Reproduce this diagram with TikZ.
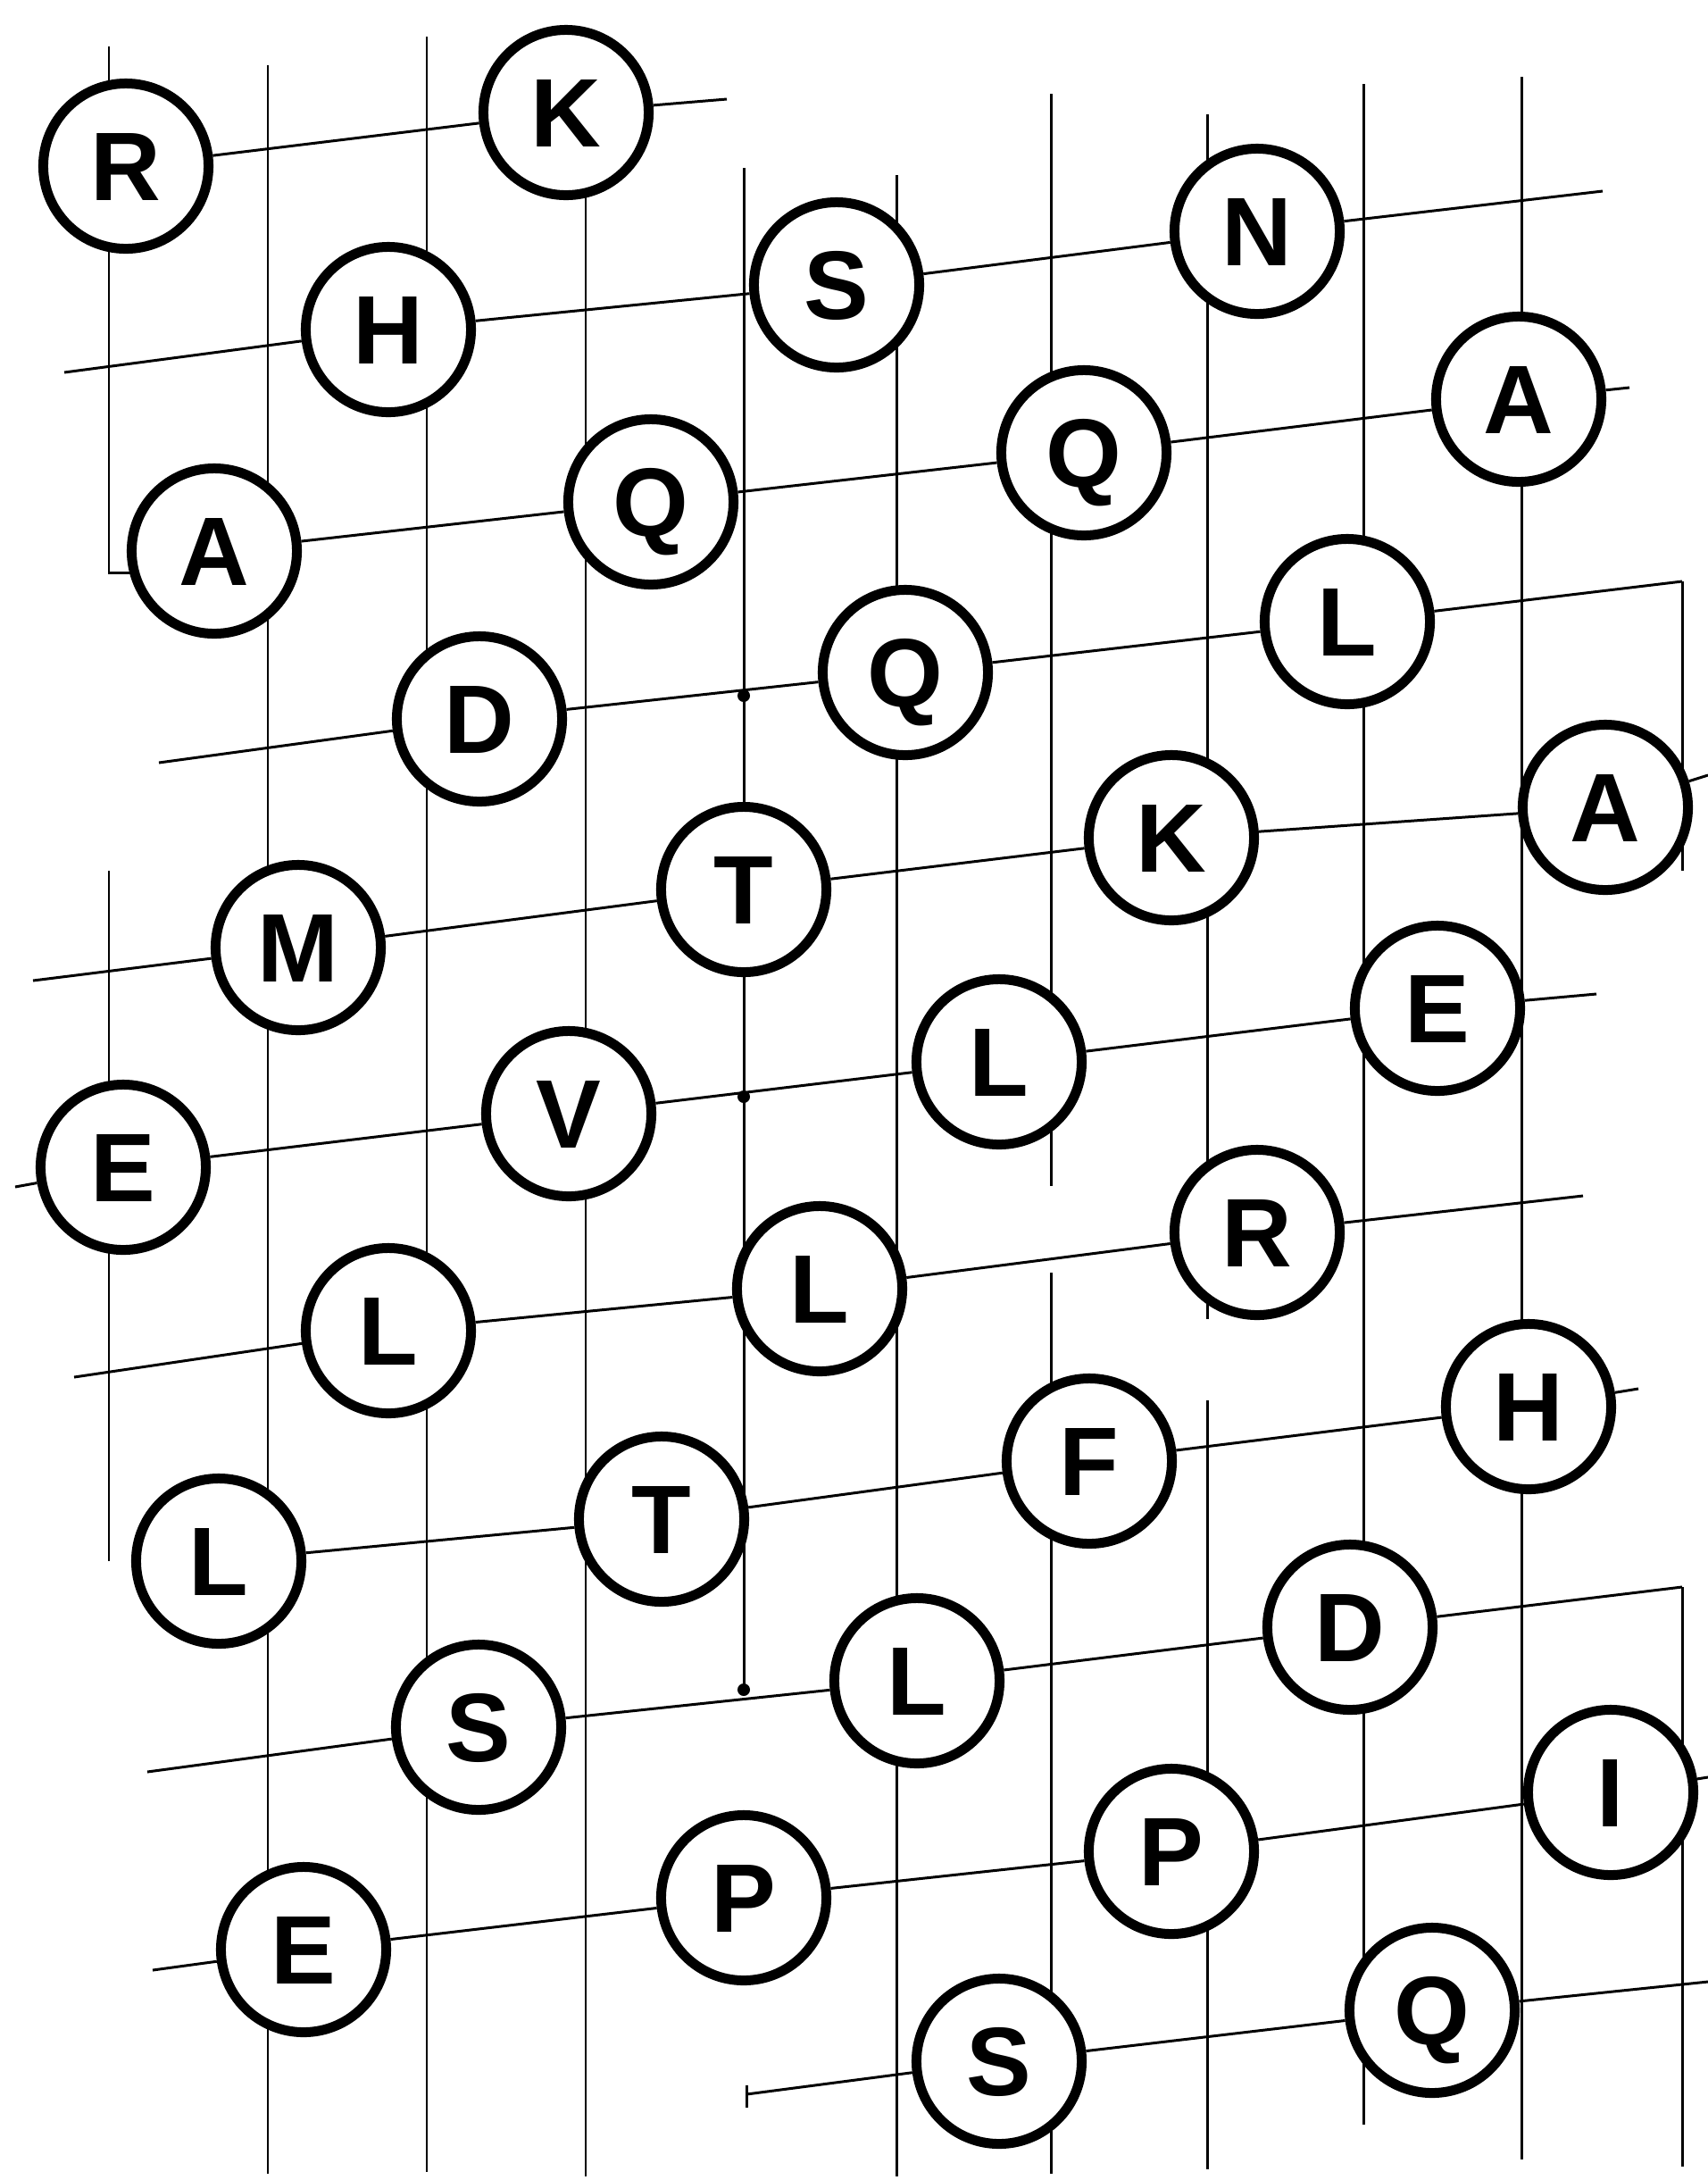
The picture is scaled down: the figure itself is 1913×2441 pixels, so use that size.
\documentclass[tikz,border=0pt]{standalone}
\usepackage{fontspec}
\setmainfont{Liberation Sans}
\usetikzlibrary{backgrounds}
\begin{document}
\begin{tikzpicture}[x=0.01cm,y=-0.01cm,
  letter/.style={circle,draw,fill=white,line width=0.11cm,minimum size=1.85cm,inner sep=0pt,
    text height=22pt,text depth=0pt,font=\fontsize{31}{31}\selectfont\bfseries},
  gridline/.style={line width=0.85pt},
  jdot/.style={circle,fill,inner sep=0pt,minimum size=0.14cm}]
\useasboundingbox (0,0) rectangle (1913,2441);
% letter circles
\node[letter] (R1) at (141,186) {R};
\node[letter] (K1) at (634,126) {K};
\node[letter] (H1) at (435,369) {H};
\node[letter] (S1) at (937,319) {S};
\node[letter] (N1) at (1408,259) {N};
\node[letter] (A1) at (240,617) {A};
\node[letter] (Q1) at (729,562) {Q};
\node[letter] (Q2) at (1214,507) {Q};
\node[letter] (A2) at (1701,447) {A};
\node[letter] (D1) at (537,805) {D};
\node[letter] (Q3) at (1014,753) {Q};
\node[letter] (L1) at (1509,696) {L};
\node[letter] (M1) at (334,1061) {M};
\node[letter] (T1) at (833,996) {T};
\node[letter] (K2) at (1312,938) {K};
\node[letter] (A3) at (1798,904) {A};
\node[letter] (E1) at (138,1307) {E};
\node[letter] (V1) at (637,1247) {V};
\node[letter] (L2) at (1119,1189) {L};
\node[letter] (E2) at (1610,1129) {E};
\node[letter] (L3) at (435,1490) {L};
\node[letter] (L4) at (918,1443) {L};
\node[letter] (R2) at (1408,1380) {R};
\node[letter] (L5) at (245,1748) {L};
\node[letter] (T2) at (741,1701) {T};
\node[letter] (F1) at (1220,1636) {F};
\node[letter] (H2) at (1712,1575) {H};
\node[letter] (S2) at (536,1934) {S};
\node[letter] (L6) at (1027,1882) {L};
\node[letter] (D2) at (1512,1822) {D};
\node[letter] (E3) at (340,2183) {E};
\node[letter] (P1) at (833,2125) {P};
\node[letter] (P2) at (1312,2073) {P};
\node[letter] (I1) at (1804,2007) {I};
\node[letter] (S3) at (1119,2308) {S};
\node[letter] (Q4) at (1604,2251) {Q};
% junction dots
\node[jdot] (j1) at (833,779) {};
\node[jdot] (j2) at (833,1228) {};
\node[jdot] (j3) at (833,1892) {};
% free ends of the rows
\coordinate (ae) at (814,111);
\coordinate (bs) at (72,417);   \coordinate (be) at (1795,214);
\coordinate (ce) at (1825,434);
\coordinate (ds) at (178,854);  \coordinate (de) at (1884,651);
\coordinate (es) at (37,1098);  \coordinate (ee) at (1913,868);
\coordinate (fs) at (17,1329);  \coordinate (fe) at (1788,1113);
\coordinate (gs) at (83,1542);  \coordinate (ge) at (1773,1339);
\coordinate (he) at (1835,1555);
\coordinate (is) at (165,1984); \coordinate (ie) at (1884,1777);
\coordinate (js) at (171,2206); \coordinate (je) at (1913,1990);
\coordinate (ks) at (836,2345); \coordinate (ke) at (1913,2219);
\coordinate (kt1) at (836,2335); \coordinate (kt2) at (836,2360);
% free ends of the verticals
\coordinate (v1a) at (122,52);   \coordinate (v1b) at (122,641);  \coordinate (v1c) at (170,641);
\coordinate (v1d) at (122,975);  \coordinate (v1e) at (122,1748);
\coordinate (v2a) at (300,73);   \coordinate (v2b) at (300,2434);
\coordinate (v3a) at (478,41);   \coordinate (v3b) at (478,2432);
\coordinate (v4a) at (656,150);  \coordinate (v4b) at (656,2437);
\coordinate (v5a) at (833,188);  \coordinate (v5b) at (833,1892);
\coordinate (v6a) at (1004,196); \coordinate (v6b) at (1004,2437);
\coordinate (v7a) at (1177,105); \coordinate (v7b) at (1177,1328);
\coordinate (v7c) at (1177,1425); \coordinate (v7d) at (1177,2434);
\coordinate (v8a) at (1352,128); \coordinate (v8b) at (1352,1477);
\coordinate (v8c) at (1352,1568); \coordinate (v8d) at (1352,2429);
\coordinate (v9a) at (1527,94);  \coordinate (v9b) at (1527,2379);
\coordinate (vAa) at (1704,86);  \coordinate (vAb) at (1704,2418);
\coordinate (vBb) at (1884,975); \coordinate (vBd) at (1884,2426);
\begin{scope}[on background layer]
% rows
\draw[gridline] (R1) -- (K1) -- (ae);
\draw[gridline] (bs) -- (H1) -- (S1) -- (N1) -- (be);
\draw[gridline] (A1) -- (Q1) -- (Q2) -- (A2) -- (ce);
\draw[gridline] (ds) -- (D1) -- (Q3) -- (L1) -- (de);
\draw[gridline] (es) -- (M1) -- (T1) -- (K2) -- (A3) -- (ee);
\draw[gridline] (fs) -- (E1) -- (V1) -- (L2) -- (E2) -- (fe);
\draw[gridline] (gs) -- (L3) -- (L4) -- (R2) -- (ge);
\draw[gridline] (L5) -- (T2) -- (F1) -- (H2) -- (he);
\draw[gridline] (is) -- (S2) -- (L6) -- (D2) -- (ie);
\draw[gridline] (js) -- (E3) -- (P1) -- (P2) -- (I1) -- (je);
\draw[gridline] (ks) -- (S3) -- (Q4) -- (ke);
\draw[gridline] (kt1) -- (kt2);
% verticals
\draw[gridline] (v1a) -- (v1b) -- (v1c);
\draw[gridline] (v1d) -- (v1e);
\draw[gridline] (v2a) -- (v2b);
\draw[gridline] (v3a) -- (v3b);
\draw[gridline] (v4a) -- (v4b);
\draw[gridline] (v5a) -- (v5b);
\draw[gridline] (v6a) -- (v6b);
\draw[gridline] (v7a) -- (v7b);
\draw[gridline] (v7c) -- (v7d);
\draw[gridline] (v8a) -- (v8b);
\draw[gridline] (v8c) -- (v8d);
\draw[gridline] (v9a) -- (v9b);
\draw[gridline] (vAa) -- (vAb);
\draw[gridline] (de) -- (vBb);
\draw[gridline] (ie) -- (vBd);
\end{scope}
\end{tikzpicture}
\end{document}
